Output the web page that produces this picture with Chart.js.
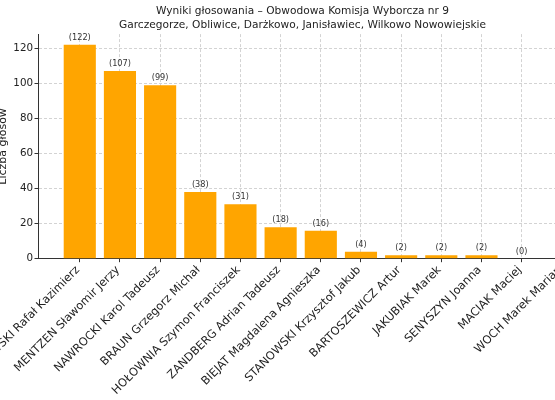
<!DOCTYPE html>
<html lang="pl">
<head>
<meta charset="utf-8">
<title>Wyniki głosowania – Obwodowa Komisja Wyborcza nr 9</title>
<script src="https://cdn.jsdelivr.net/npm/chart.js@4.4.1/dist/chart.umd.min.js"></script>
<style>
  html, body { margin: 0; padding: 0; background: #fff; }
  body { width: 555px; height: 400px; overflow: hidden; position: relative; }
  /* the picture is a crop of a wider figure, so the canvas sticks out on both sides */
  #chart { position: absolute; left: -20px; top: 0; }
</style>
</head>
<body>
<canvas id="chart" width="630" height="400"></canvas>
<script>
// --- 1. DATA ---
const candidates = [
    "TRZASKOWSKI Rafał Kazimierz",
    "MENTZEN Sławomir Jerzy",
    "NAWROCKI Karol Tadeusz",
    "BRAUN Grzegorz Michał",
    "HOŁOWNIA Szymon Franciszek",
    "ZANDBERG Adrian Tadeusz",
    "BIEJAT Magdalena Agnieszka",
    "STANOWSKI Krzysztof Jakub",
    "BARTOSZEWICZ Artur",
    "JAKUBIAK Marek",
    "SENYSZYN Joanna",
    "MACIAK Maciej",
    "WOCH Marek Marian"
];
const votes = [122, 107, 99, 38, 31, 18, 16, 4, 2, 2, 2, 0, 0];
const yTicks = [0, 20, 40, 60, 80, 100, 120];
const titleLines = [
    "Wyniki głosowania – Obwodowa Komisja Wyborcza nr 9",
    "Garczegorze, Obliwice, Darżkowo, Janisławiec, Wilkowo Nowowiejskie"
];
const yTitle = "Liczba głosów";

// --- 2. LOOK ---
const FONT = 'DejaVu Sans';
const barColor = '#FFA500';
const gridColor = 'rgba(176, 176, 176, 0.7)';
const axisColor = '#333';
const textColor = '#222';

Chart.defaults.font.family = FONT;

// value labels "(n)" above each bar, drawn last so they sit over the grid
const barLabels = {
    id: 'barLabels',
    afterDraw(chart) {
        const ctx = chart.ctx;
        const meta = chart.getDatasetMeta(0);
        ctx.save();
        ctx.font = `8.2px "${FONT}"`;
        ctx.fillStyle = '#333';
        ctx.textAlign = 'center';
        ctx.textBaseline = 'alphabetic';
        meta.data.forEach((bar, i) => {
            ctx.fillText(`(${votes[i]})`, bar.x, bar.y - 5);
        });
        ctx.restore();
    }
};

// --- 3. CHART ---
new Chart(document.getElementById('chart'), {
    type: 'bar',
    data: {
        datasets: [{
            data: votes.map((v, i) => ({ x: i, y: v })),
            backgroundColor: barColor,
            borderWidth: 0,
            barPercentage: 0.8,
            categoryPercentage: 1.0
        }]
    },
    options: {
        responsive: false,
        animation: false,
        layout: { padding: { left: 17, right: 2, top: 0, bottom: 0 } },
        plugins: {
            legend: { display: false },
            tooltip: { enabled: false },
            title: {
                display: true,
                text: titleLines,
                color: textColor,
                font: { family: FONT, size: 10.6, weight: 'normal', lineHeight: 1.274 },
                padding: { top: 4.85, bottom: 2.25 }
            }
        },
        scales: {
            x: {
                type: 'linear',
                min: -1.04,
                max: 13.04,
                offset: false,
                z: 1,
                afterBuildTicks: s => { s.ticks = candidates.map((_, i) => ({ value: i })); },
                afterFit: s => { s.height = 141.3; s.paddingLeft = 0; s.paddingRight = 6.4; },
                ticks: {
                    autoSkip: false,
                    minRotation: 45,
                    maxRotation: 45,
                    padding: 1.2,
                    labelOffset: -1.9,
                    color: textColor,
                    font: { family: FONT, size: 11.4 },
                    callback: v => candidates[v]
                },
                grid: {
                    offset: false,
                    color: gridColor,
                    lineWidth: 0.8,
                    tickLength: 3.5,
                    tickColor: axisColor,
                    tickWidth: 1,
                    tickBorderDash: []
                },
                border: { color: axisColor, width: 1, dash: [3, 2] }
            },
            y: {
                min: 0,
                max: 128.1,
                z: 1,
                afterBuildTicks: s => { s.ticks = yTicks.map(v => ({ value: v })); },
                afterFit: s => { s.width = 41; s.paddingTop = 0; s.paddingBottom = 0; },
                ticks: {
                    padding: 1.5,
                    color: textColor,
                    font: { family: FONT, size: 10.3 }
                },
                grid: {
                    color: c => (c.tick && c.tick.value === 0) ? 'rgba(0,0,0,0)' : gridColor,
                    lineWidth: 0.8,
                    tickLength: 3.5,
                    tickColor: axisColor,
                    tickWidth: 1,
                    tickBorderDash: []
                },
                border: { color: axisColor, width: 1, dash: [3, 2] },
                title: {
                    display: true,
                    text: yTitle,
                    color: textColor,
                    font: { family: FONT, size: 11 },
                    padding: 0
                }
            }
        }
    },
    plugins: [barLabels]
});
</script>
</body>
</html>
